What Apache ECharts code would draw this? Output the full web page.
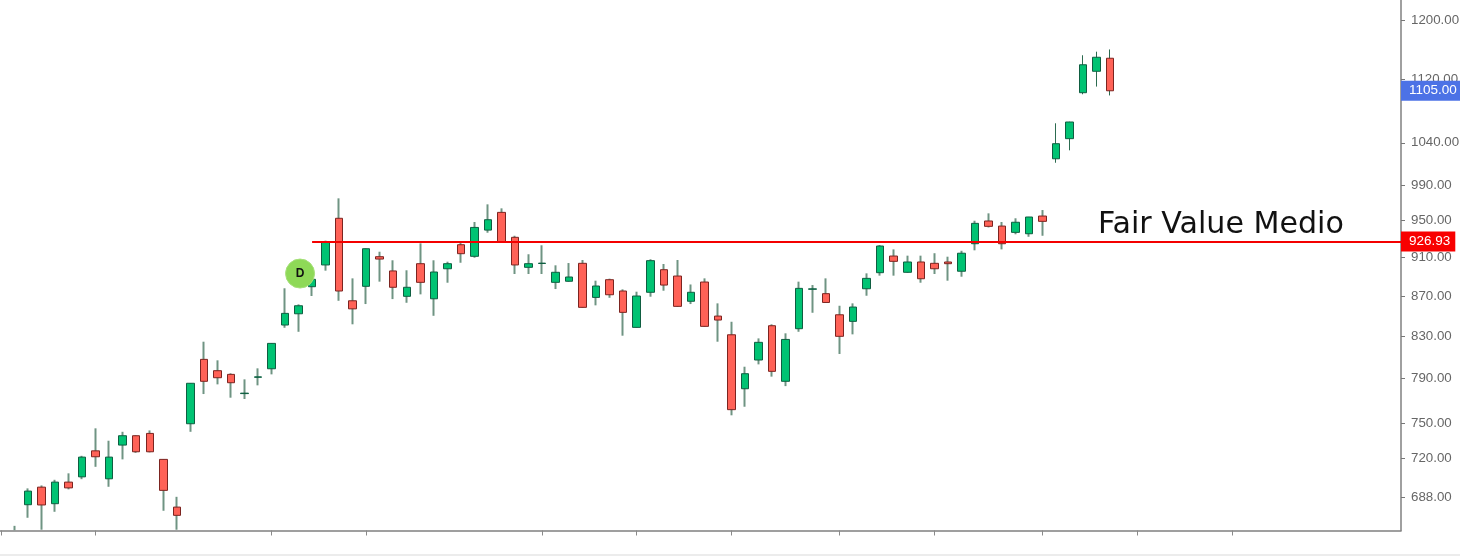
<!DOCTYPE html>
<html>
<head>
<meta charset="utf-8">
<style>html,body{margin:0;padding:0;background:#fff;overflow:hidden}#c{width:1460px;height:556px}</style>
<script src="https://cdn.jsdelivr.net/npm/echarts@6/dist/echarts.min.js"></script>
</head>
<body>
<div id="c"></div>
<script>
const opens = [662.2,682.1,696.2,682.9,700.3,704.6,726.3,703,731.2,739.2,741.2,719.1,680.2,749.6,808,797.4,794,776.4,791.3,799.2,
841,852.1,879.4,902,952.4,865.1,879.8,910.7,895.7,869.6,903.3,867.1,898,923.5,911.1,939.4,959,931.5,899.5,903.5,883.9,885,
903.7,868.5,886.6,875,838.7,873.7,897,890.4,864.6,884.2,849.8,831.5,780.8,807.4,840.3,787.6,837.4,876.8,872.3,851.1,844.6,877.3,893.9,
911.4,894.3,905.1,903.7,905.1,895.4,924.6,949.4,943.8,936.9,935.4,954.9,1020.8,1045,1102.5,1130.4,1147.7];
const closes = [662.3,693,681.9,700.3,695.6,721,721.3,721,739.2,725.5,725.5,693.6,673.7,785.8,787.6,790.9,786.3,776.8,791.7,823.2,
852.5,860.1,887,926.4,875,857,919.2,908.2,878.8,878.8,883.9,894.6,903.3,913.9,942.3,950.8,926.1,902,903.3,903.9,894.3,889.4,
858.5,880.1,871.2,853.5,869.9,906.5,881.1,859.5,873.7,839.7,845.9,762,794.6,824.2,796.8,827,877.7,877.2,863.4,830,858.8,888,922.1,
905.8,905.1,887.6,898,903.3,914.4,946.8,943.5,924.6,948,953.8,949,1038.9,1065.5,1139,1149,1105];
const lows = [662.1,671.8,662.5,676.5,694.4,702.7,712.9,696.5,719.1,724.6,725,677.3,662.5,742.6,776,784.8,772.7,771.5,783.9,794,
838.3,834.4,869.9,896,865.1,841.7,861.8,884.6,866.8,863.1,871.6,850.1,883.5,904.3,909.6,936.5,925.8,892.5,892.5,892.5,877,884.5,
858,860.5,868.1,830.6,838.4,869.2,875.3,859,861.8,839.3,824.8,757,764.6,803.3,791.9,783.2,834.4,853.1,863,813.1,831.9,870.2,890.8,
890.8,893.8,883.5,892.5,885.6,889.7,917.5,942.3,918.5,934.8,932.1,933.2,1016.1,1030.9,1100.5,1110.4,1099];
const highs = [665.5,695.2,697.6,702.2,707.5,722.1,745.6,734.9,742.6,739.5,743.8,719.3,688.4,786,824.8,807.1,795,789.4,799.6,823.4,
877.8,861.5,889.5,927.9,974.8,888,919.5,916,906.9,896.4,925,906.9,905.4,926.4,948.3,968,963.5,933.2,913.3,922.9,901.6,904,
907.2,885.6,887.7,876.7,874.3,908,903,907.2,881.7,888,862.5,844.2,801.1,828,841.7,832.9,884.6,881.1,888,860.1,862.5,893.2,923.2,
918.5,911.8,911.8,914.4,910.7,917,949.7,957.9,948.3,952.4,954,961.6,1063.9,1065.8,1151.7,1156.5,1159.5];

const yTicks = [688,720,750,790,830,870,910,950,990,1040,1120,1200];
const xTickSlots = [0,7,20,27,40,47,54,62,69,77,84,91];
const fairValue = 926.93;
const lastPrice = 1105;
const axisMin = 661.9;
const axisMax = 1228.3;
const fairValueTitle = 'Fair Value Medio';
const signalLetter = 'D';
const signalSlot = 22;
const signalPrice = 893;
const fairLineStartSlot = 23;
const firstCandleSlot = 1;
const slotCount = 104;
const darkWickFrom = 77;

const categories = Array.from({length: slotCount}, (_, i) => String(i));
const wickRows = opens.map((o, i) => {
  const value = [i + firstCandleSlot, o, closes[i], lows[i], highs[i]];
  return i >= darkWickFrom
    ? {value, itemStyle: {borderColor: '#2c6b50', borderColor0: '#2c6b50', borderWidth: 1}}
    : {value};
});
// a candle whose body lies on or below the axis floor shows only its wick
const bodyRows = opens.map((o, i) => [i + firstCandleSlot, o, closes[i], Math.min(o, closes[i]), Math.max(o, closes[i])])
  .filter(r => r[4] > axisMin + 1);

const chart = echarts.init(document.getElementById('c'), null, {renderer: 'canvas'});
const font = '"Liberation Sans", Arial, sans-serif';
chart.setOption({
  animation: false,
  backgroundColor: '#ffffff',
  grid: {left: -5.8, right: 59, top: 0, bottom: 25.5, containLabel: false, outerBoundsMode: 'none'},
  xAxis: {
    type: 'category', data: categories, boundaryGap: true,
    axisLine: {show: true, lineStyle: {color: '#808080', width: 1.5}},
    axisTick: {show: true, alignWithLabel: true, length: 5, lineStyle: {color: '#8a8a8a', width: 1},
      interval: (i) => xTickSlots.includes(i)},
    axisLabel: {show: false}, splitLine: {show: false}
  },
  yAxis: {
    type: 'log', logBase: 10, position: 'right', min: axisMin, max: axisMax, scale: true,
    axisLine: {show: true, lineStyle: {color: '#808080', width: 1.5}},
    axisTick: {show: true, length: 4, lineStyle: {color: '#777', width: 1}, customValues: yTicks},
    minorTick: {show: false}, minorSplitLine: {show: false},
    axisLabel: {show: true, color: '#666666', fontFamily: font, fontSize: 13.3, margin: 10,
      padding: [2, 0, 0, 0],
      customValues: yTicks, showMinLabel: true, showMaxLabel: true,
      formatter: (v) => Number(v).toFixed(2)},
    splitLine: {show: false}
  },
  series: [
    {
      type: 'candlestick', name: 'wicks', barWidth: 1, z: 2,
      encode: {x: 0, y: [1, 2, 3, 4]},
      itemStyle: {color: 'transparent', color0: 'transparent', borderColor: '#6f9483', borderColor0: '#6f9483', borderWidth: 2},
      data: wickRows, silent: true, clip: true
    },
    {
      type: 'candlestick', name: 'bodies', barWidth: 8, z: 3,
      encode: {x: 0, y: [1, 2, 3, 4]},
      itemStyle: {color: '#00C373', color0: '#FF6257', borderColor: '#0F5E41', borderColor0: '#7C2420', borderWidth: 1},
      data: bodyRows, silent: true, clip: true,
      markLine: {
        silent: true, symbol: 'none', animation: false,
        data: [
          [{coord: [String(fairLineStartSlot), fairValue],
            lineStyle: {color: '#f40000', width: 2, type: 'solid'},
            label: {show: true, position: 'end', distance: 0, formatter: fairValue.toFixed(2),
              color: '#fff', backgroundColor: '#f80000', fontFamily: font, fontSize: 13.5,
              padding: [3, 5, 3, 8], lineHeight: 14, fontWeight: 500}},
           {x: 1401, yAxis: fairValue}],
          [{coord: [String(signalSlot), lastPrice],
            lineStyle: {color: 'transparent', width: 0},
            label: {show: true, position: 'end', distance: 0, formatter: lastPrice.toFixed(2),
              color: '#fff', backgroundColor: '#4c72e6', fontFamily: font, fontSize: 13.5,
              padding: [3, 8, 3, 8], lineHeight: 14, fontWeight: 500}},
           {x: 1401, yAxis: lastPrice}]
        ]
      },
      markPoint: {
        silent: true, animation: false,
        data: [{coord: [String(signalSlot), signalPrice], symbol: 'circle', symbolSize: 29, symbolOffset: [1.5, 0],
          itemStyle: {color: '#8ed957', borderColor: '#a6e07a', borderWidth: 1},
          label: {show: true, formatter: signalLetter, position: 'inside', color: '#111', fontFamily: font, fontSize: 12, fontWeight: 'bold'}}]
      }
    }
  ],
  graphic: [
    {type: 'text', left: 1098, top: 210, z: 10, silent: true,
      style: {text: fairValueTitle, fill: '#111', font: '30.1px "DejaVu Sans", sans-serif'}},
    {type: 'rect', left: 0, top: 554, z: 0, silent: true, shape: {width: 1460, height: 2}, style: {fill: '#ececec'}}
  ]
});
</script>
</body>
</html>
